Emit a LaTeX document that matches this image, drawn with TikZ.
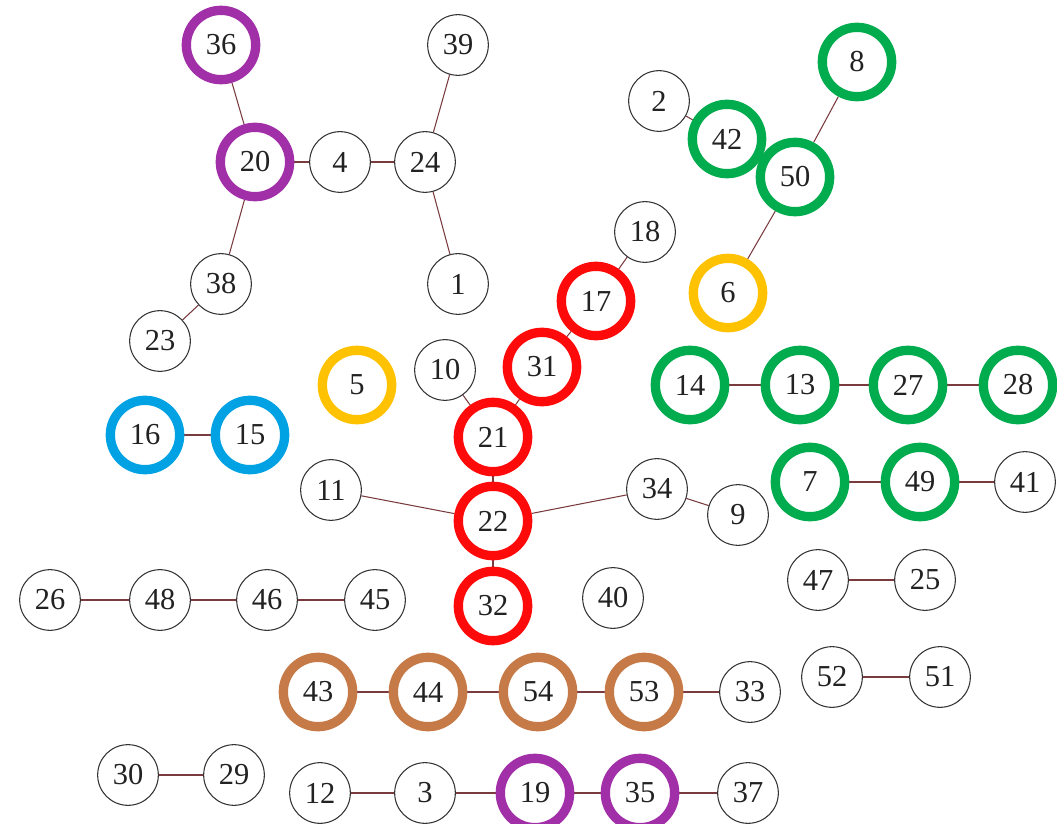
\documentclass[tikz,border=0pt]{standalone}
\usepackage{fontspec}
\setmainfont{Liberation Serif}
\usepackage{xcolor}
\definecolor{grpurple}{HTML}{A12FA8}
\definecolor{grgreen}{HTML}{00AC4E}
\definecolor{grred}{HTML}{FF0A0A}
\definecolor{gryellow}{HTML}{FFC200}
\definecolor{grblue}{HTML}{00A2E4}
\definecolor{grbrown}{HTML}{C67A48}
\definecolor{grlink}{HTML}{7A3B3F}
\definecolor{grtext}{HTML}{222222}
\usetikzlibrary{backgrounds}

\begin{document}
\begin{tikzpicture}[x=0.03cm, y=-0.03cm,
  vtx/.style={draw=black!80, circle, fill=white, minimum size=1.82cm,
              inner sep=0pt, line width=0.9pt, text=grtext,
              font=\fontsize{26}{30}\selectfont},
  grp/.style={vtx, draw=#1, line width=0.28cm, minimum size=2.08cm},
  link/.style={draw=grlink, line width=0.9pt}
]
\useasboundingbox (0,0) rectangle (1057,824);

%% upper left tree
\node[grp=grpurple] (n36) at (221,45)  {36};
\node[vtx]          (n39) at (458,45)  {39};
\node[grp=grpurple] (n20) at (255,162) {20};
\node[vtx]          (n4)  at (340,162) {4};
\node[vtx]          (n24) at (425,162) {24};
\node[vtx]          (n38) at (221,284) {38};
\node[vtx]          (n1)  at (458,284) {1};
\node[vtx]          (n23) at (160,341) {23};

%% upper right tree
\node[vtx]         (n2)  at (659,101) {2};
\node[grp=grgreen] (n42) at (727,139) {42};
\node[grp=grgreen] (n50) at (795,177) {50};
\node[grp=grgreen] (n8)  at (857,62)  {8};
\node[grp=gryellow](n6)  at (728,293) {6};

%% central tree
\node[vtx]       (n18) at (645,232) {18};
\node[grp=grred] (n17) at (596,301) {17};
\node[grp=grred] (n31) at (542,367) {31};
\node[vtx]       (n10) at (445,370) {10};
\node[grp=grred] (n21) at (493,437) {21};
\node[vtx]       (n11) at (331,490) {11};
\node[grp=grred] (n22) at (493,521) {22};
\node[vtx]       (n34) at (657,489) {34};
\node[vtx]       (n9)  at (738,515) {9};
\node[grp=grred] (n32) at (493,606) {32};
\node[vtx]       (n40) at (613,598) {40};
\node[grp=gryellow] (n5) at (357,385) {5};

%% chains
\node[grp=grgreen] (n14) at (690,385)  {14};
\node[grp=grgreen] (n13) at (800,385)  {13};
\node[grp=grgreen] (n27) at (908,385)  {27};
\node[grp=grgreen] (n28) at (1018,385) {28};
\node[grp=grblue]  (n16) at (145,435)  {16};
\node[grp=grblue]  (n15) at (250,435)  {15};
\node[grp=grgreen] (n7)  at (810,482)  {7};
\node[grp=grgreen] (n49) at (920,482)  {49};
\node[vtx]         (n41) at (1025,482) {41};
\node[vtx]         (n47) at (818,580)  {47};
\node[vtx]         (n25) at (925,580)  {25};
\node[vtx]         (n26) at (50,600)   {26};
\node[vtx]         (n48) at (160,600)  {48};
\node[vtx]         (n46) at (267,600)  {46};
\node[vtx]         (n45) at (375,600)  {45};
\node[vtx]         (n52) at (832,677)  {52};
\node[vtx]         (n51) at (940,677)  {51};
\node[grp=grbrown] (n43) at (318,692)  {43};
\node[grp=grbrown] (n44) at (428,692)  {44};
\node[grp=grbrown] (n54) at (538,692)  {54};
\node[grp=grbrown] (n53) at (644,692)  {53};
\node[vtx]         (n33) at (750,692)  {33};
\node[vtx]         (n30) at (128,775)  {30};
\node[vtx]         (n29) at (234,775)  {29};
\node[vtx]         (n12) at (320,793)  {12};
\node[vtx]         (n3)  at (425,793)  {3};
\node[grp=grpurple](n19) at (535,793)  {19};
\node[grp=grpurple](n35) at (640,793)  {35};
\node[vtx]         (n37) at (748,793)  {37};

%% edges
\begin{scope}[on background layer]
\foreach \a/\b in {36/20,20/4,4/24,24/39,24/1,20/38,38/23,
                   2/42,42/50,50/8,50/6,
                   18/17,17/31,31/21,10/21,21/22,11/22,22/34,34/9,22/32,
                   14/13,13/27,27/28,16/15,7/49,49/41,47/25,
                   26/48,48/46,46/45,52/51,
                   43/44,44/54,54/53,53/33,30/29,
                   12/3,3/19,19/35,35/37}
  \draw[link] (n\a) -- (n\b);
\end{scope}
\end{tikzpicture}
\end{document}
